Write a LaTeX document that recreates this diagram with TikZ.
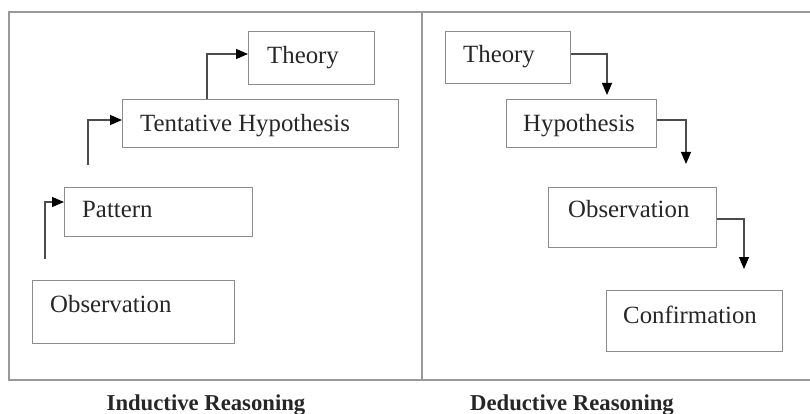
\documentclass[tikz,border=0pt]{standalone}
\usepackage{fontspec}
\setmainfont{Liberation Serif}
\usetikzlibrary{arrows.meta}
\begin{document}
\begin{tikzpicture}[x=1pt,y=-1pt,
  box/.style={draw=black!45, line width=1.3pt, rectangle, inner sep=0pt, anchor=north west},
  lbl/.style={inner sep=0pt, anchor=base west, font=\fontsize{24.8}{28}\selectfont, text=black!85},
  captiontext/.style={inner sep=0pt, anchor=base, font=\fontsize{22.7}{26}\selectfont\bfseries, text=black!85},
  conn/.style={draw=black!70, line width=1.2pt, -{Triangle[length=12pt,width=10pt,fill=black,color=black]}},
  frame/.style={draw=black!40, line width=1.3pt}]
\useasboundingbox (0,0) rectangle (810,414);
% frame
\draw[frame] (812,12) -- (9,12) -- (9,380) -- (812,380);
\draw[frame] (422,12) -- (422,380);
% Inductive
\node[box, minimum width=126pt, minimum height=53pt] (itheory) at (248,31) {};
\node[lbl] (itheoryt) at (267,64) {Theory};
\node[box, minimum width=276pt, minimum height=48pt] (ihyp) at (122,99) {};
\node[lbl] (ihypt) at (140,132) {Tentative Hypothesis};
\node[box, minimum width=188pt, minimum height=49pt] (ipat) at (64,187) {};
\node[lbl] (ipatt) at (82,217) {Pattern};
\node[box, minimum width=202pt, minimum height=63pt] (iobs) at (32,280) {};
\node[lbl] (iobst) at (50,312) {Observation};
\coordinate (s1) at (45,259);
\coordinate (s2) at (88,165);
\coordinate (s3) at (207,99);
\draw[conn] (s1) |- (ipat.west |- 0,202);
\draw[conn] (s2) |- (ihyp.west |- 0,120);
\draw[conn] (s3) |- (itheory.west |- 0,54);
\node[captiontext] (icap) at (206,410) {Inductive Reasoning};
% Deductive
\node[box, minimum width=125pt, minimum height=52pt] (dtheory) at (445,31) {};
\node[lbl] (dtheoryt) at (463,63) {Theory};
\node[box, minimum width=150pt, minimum height=48pt] (dhyp) at (506,99) {};
\node[lbl] (dhypt) at (523,132) {Hypothesis};
\node[box, minimum width=168pt, minimum height=60pt] (dobs) at (548,187) {};
\node[lbl] (dobst) at (568,217) {Observation};
\node[box, minimum width=176pt, minimum height=61pt] (dconf) at (606,290) {};
\node[lbl] (dconft) at (623,323) {Confirmation};
\coordinate (e1) at (607,95);
\coordinate (e2) at (686,164);
\coordinate (e3) at (744,269);
\draw[conn] (dtheory.east |- 0,54) -| (e1);
\draw[conn] (dhyp.east |- 0,120) -| (e2);
\draw[conn] (dobs.east |- 0,219) -| (e3);
\node[captiontext] (dcap) at (572,410) {Deductive Reasoning};
\end{tikzpicture}
\end{document}
